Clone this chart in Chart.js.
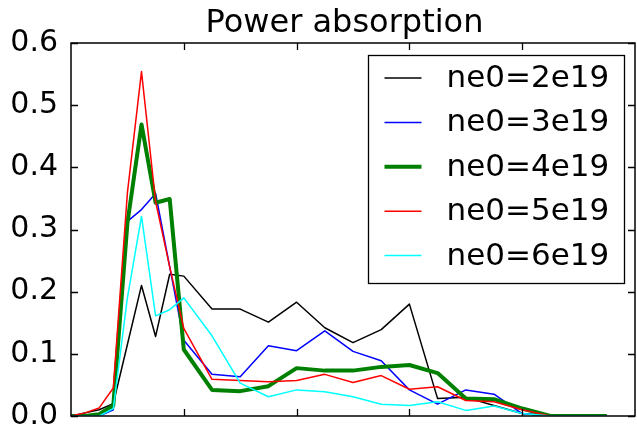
<!DOCTYPE html>
<html>
<head>
<meta charset="utf-8">
<script src="https://cdn.jsdelivr.net/npm/chart.js@4.4.0/dist/chart.umd.min.js"></script>
<style>
  html, body { margin: 0; padding: 0; background: #fff; }
</style>
</head>
<body>
<canvas id="plot" width="637" height="426"></canvas>
<script>
// sample positions (x axis has no labels in the original)
const xs = [0, 0.125, 0.25, 0.375, 0.5, 0.625, 0.75, 0.875, 1.0, 1.25, 1.5, 1.75,
            2.0, 2.25, 2.5, 2.75, 3.0, 3.25, 3.5, 3.75, 4.0, 4.25, 4.5, 4.75];

const ne2e19 = [0, 0.005, 0.01, 0.02, 0.115, 0.21, 0.128, 0.228, 0.225, 0.172, 0.172, 0.151,
                0.183, 0.142, 0.118, 0.139, 0.180, 0.028, 0.030, 0.017, 0.004, 0, 0, 0];
const ne3e19 = [0, 0, 0, 0.01, 0.313, 0.332, 0.358, 0.24, 0.122, 0.067, 0.063, 0.113,
                0.105, 0.137, 0.104, 0.089, 0.042, 0.019, 0.042, 0.035, 0.004, 0, 0, 0];
const ne4e19 = [0, 0, 0.003, 0.017, 0.31, 0.469, 0.343, 0.349, 0.107, 0.042, 0.040, 0.048,
                0.077, 0.073, 0.073, 0.079, 0.082, 0.069, 0.028, 0.027, 0.012, 0, 0, 0];
const ne5e19 = [0, 0.005, 0.013, 0.045, 0.359, 0.554, 0.345, 0.24, 0.141, 0.059, 0.057, 0.055,
                0.057, 0.067, 0.054, 0.065, 0.043, 0.047, 0.025, 0.023, 0.010, 0, 0, 0];
const ne6e19 = [0, 0, 0, 0.012, 0.19, 0.321, 0.161, 0.171, 0.19, 0.129, 0.053, 0.031,
                0.042, 0.039, 0.031, 0.019, 0.017, 0.023, 0.009, 0.016, 0.004, 0, 0, 0];

const seriesNames = ['ne0=2e19', 'ne0=3e19', 'ne0=4e19', 'ne0=5e19', 'ne0=6e19'];
const seriesValues = [ne2e19, ne3e19, ne4e19, ne5e19, ne6e19];
const yTicks = [0, 0.1, 0.2, 0.3, 0.4, 0.5, 0.6];
const xTicks = [1, 2, 3, 4];
const chartTitle = 'Power absorption';

const lineColors = ['#000000', '#0000ff', '#008000', '#ff0000', '#00ffff'];
const lineWidths = [1.5, 1.5, 4, 1.5, 1.5];
const FONT = "'DejaVu Sans', 'Liberation Sans', sans-serif";

// title sits a bit left of the axes centre in the original
const titleText = {
  id: 'titleText',
  afterDraw(chart) {
    const ctx = chart.ctx;
    ctx.save();
    ctx.font = '32px ' + FONT;
    ctx.fillStyle = '#000';
    ctx.textAlign = 'center';
    ctx.textBaseline = 'alphabetic';
    ctx.fillText(chartTitle, 344.5, 32);
    ctx.restore();
  }
};

// inward ticks on all four sides plus the axes frame, like matplotlib classic
const frameTicks = {
  id: 'frameTicks',
  afterDatasetsDraw(chart) {
    const { ctx, chartArea: a, scales } = chart;
    ctx.save();
    ctx.strokeStyle = '#000';
    ctx.lineWidth = 1.3;
    ctx.beginPath();
    yTicks.forEach(v => {
      const y = Math.round(scales.y.getPixelForValue(v)) + 0.5;
      ctx.moveTo(a.left, y); ctx.lineTo(a.left + 7, y);
      ctx.moveTo(a.right, y); ctx.lineTo(a.right - 7, y);
    });
    xTicks.forEach(v => {
      const x = Math.round(scales.x.getPixelForValue(v)) + 0.5;
      ctx.moveTo(x, a.bottom); ctx.lineTo(x, a.bottom - 7);
      ctx.moveTo(x, a.top); ctx.lineTo(x, a.top + 7);
    });
    ctx.stroke();
    ctx.lineWidth = 1.5;
    ctx.strokeRect(a.left, a.top, a.right - a.left, a.bottom - a.top);
    ctx.restore();
  }
};

// boxed legend in the upper right of the axes
const boxLegend = {
  id: 'boxLegend',
  afterDraw(chart) {
    const ctx = chart.ctx;
    const bx = 368.5, by = 55.5, bw = 256, bh = 228;
    ctx.save();
    ctx.fillStyle = '#fff';
    ctx.fillRect(bx, by, bw, bh);
    ctx.strokeStyle = '#000';
    ctx.lineWidth = 1.3;
    ctx.strokeRect(bx, by, bw, bh);
    ctx.font = '31px ' + FONT;
    ctx.textBaseline = 'middle';
    ctx.textAlign = 'left';
    chart.data.datasets.forEach((ds, i) => {
      const y = by + 22.5 + i * 44.4;
      ctx.strokeStyle = ds.borderColor;
      ctx.lineWidth = ds.borderWidth;
      ctx.beginPath();
      ctx.moveTo(bx + 16, y); ctx.lineTo(bx + 53, y);
      ctx.stroke();
      ctx.fillStyle = '#000';
      ctx.fillText(ds.label, bx + 78, y + 1);
    });
    ctx.restore();
  }
};

const datasets = seriesNames.map((name, i) => ({
  label: name,
  data: xs.map((x, k) => ({ x: x, y: seriesValues[i][k] })),
  borderColor: lineColors[i],
  borderWidth: lineWidths[i],
  pointRadius: 0,
  tension: 0,
  fill: false,
  borderJoinStyle: 'round',
  order: seriesNames.length - i
}));

new Chart(document.getElementById('plot').getContext('2d'), {
  type: 'line',
  data: { datasets: datasets },
  options: {
    responsive: false,
    animation: false,
    devicePixelRatio: 1,
    layout: { padding: { left: 0, right: 2, top: 43, bottom: 0 } },
    plugins: {
      legend: { display: false },
      tooltip: { enabled: false },
      title: { display: false }
    },
    scales: {
      x: {
        type: 'linear',
        min: 0,
        max: 5,
        ticks: { display: false },
        grid: { display: false, drawTicks: false },
        border: { display: false },
        afterFit: s => { s.height = 10; s.paddingLeft = 0; s.paddingRight = 0; }
      },
      y: {
        type: 'linear',
        min: 0,
        max: 0.6,
        afterBuildTicks: s => { s.ticks = yTicks.map(v => ({ value: v })); },
        ticks: {
          color: '#000',
          font: { family: FONT, size: 30 },
          padding: 13,
          callback: v => v.toFixed(1)
        },
        grid: { display: false, drawTicks: false },
        border: { display: false },
        afterFit: s => { s.width = 71; s.paddingTop = 0; s.paddingBottom = 0; }
      }
    }
  },
  plugins: [frameTicks, boxLegend, titleText]
});
</script>
</body>
</html>
